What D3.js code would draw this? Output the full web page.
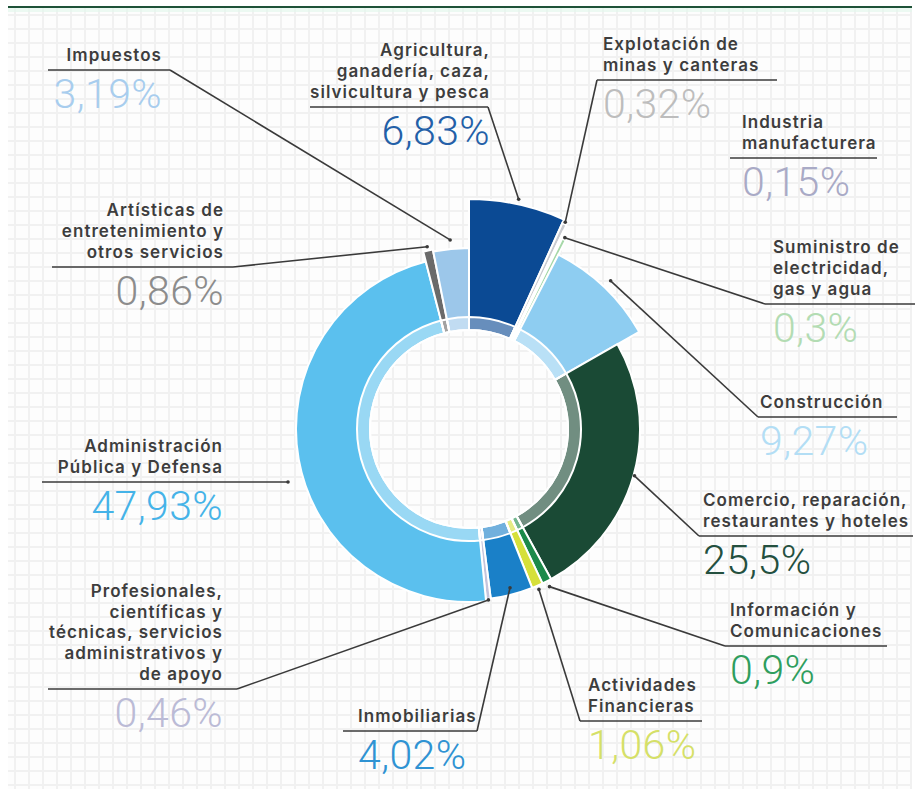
<!DOCTYPE html>
<html>
<head>
<meta charset="utf-8">
<title>PIB por sector</title>
<script src="https://cdnjs.cloudflare.com/ajax/libs/d3/7.8.5/d3.min.js"></script>
<style>
  body { margin: 0; background: #fff; }
  svg { display: block; }
  .lbl { font-family: Inter, "Open Sans", sans-serif; font-weight: 600; font-size: 17px; letter-spacing: 1.05px; fill: #3d3d3d; }
  .pct { font-family: Roboto, sans-serif; font-weight: 300; font-size: 41px; letter-spacing: 0.4px; }
  .rule { stroke: #3a3a3a; stroke-width: 1.6; fill: none; }
</style>
</head>
<body>
<div id="chart"></div>
<script>
// data, clockwise from 12 o'clock
const sectors = [
  "Agricultura,|ganadería, caza,|silvicultura y pesca",
  "Explotación de|minas y canteras",
  "Industria|manufacturera",
  "Suministro de|electricidad,|gas y agua",
  "Construcción",
  "Comercio, reparación,|restaurantes y hoteles",
  "Información y|Comunicaciones",
  "Actividades|Financieras",
  "Inmobiliarias",
  "Profesionales,|científicas y|técnicas, servicios|administrativos y|de apoyo",
  "Administración|Pública y Defensa",
  "Artísticas de|entretenimiento y|otros servicios",
  "Impuestos"
];
const shares = [6.83, 0.32, 0.15, 0.3, 9.27, 25.5, 0.9, 1.06, 4.02, 0.46, 47.93, 0.86, 3.19];
const sliceColors = ["#0b4a94", "#c9cbd0", "#a9aac8", "#a6d8a8", "#8ecdf1", "#1a4a35", "#1c8a4a",
  "#d6e03a", "#1a80c8", "#c4c4dc", "#5bc0ee", "#6a6a6a", "#9cc7ea"];
const valueColors = ["#2360a8", "#bdbdbd", "#a9aac6", "#b3dcb3", "#b3def5", "#24503f", "#2f9e5e",
  "#d5e068", "#2f93d3", "#bbbbd6", "#45b3e8", "#8c8c8c", "#a8cdee"];

// layout: outer radius of each slice, label block placement, leader target radius
const outerR = [230, 226, 219, 212, 196, 171, 171, 171, 171, 171, 173, 183, 181];
const labelPos = [
  { anchor: "end",   x: 490, y: 107, x0: 310, x1: 488, from: "x1", leadR: 235 },
  { anchor: "start", x: 603, y: 80,  x0: 597, x1: 777, from: "x0", leadR: 228 },
  { anchor: "start", x: 742, y: 158, x0: 730, x1: 877, from: null, leadR: null },
  { anchor: "start", x: 773, y: 304, x0: 765, x1: 915, from: "x0", leadR: 214 },
  { anchor: "start", x: 760, y: 417, x0: 758, x1: 897, from: "x0", leadR: 205 },
  { anchor: "start", x: 703, y: 536, x0: 699, x1: 913, from: "x0", leadR: 172 },
  { anchor: "start", x: 730, y: 646, x0: 725, x1: 887, from: "x0", leadR: 177 },
  { anchor: "start", x: 588, y: 721, x0: 580, x1: 702, from: "x0", leadR: 175 },
  { anchor: "start", x: 358, y: 731, x0: 343, x1: 477, from: "x1", leadR: 164 },
  { anchor: "end",   x: 223, y: 689, x0: 48,  x1: 237, from: "x1", leadR: 172 },
  { anchor: "end",   x: 223, y: 482, x0: 42,  x1: 288, from: null, leadR: null },
  { anchor: "end",   x: 224, y: 267, x0: 52,  x1: 233, from: "x1", leadR: 187 },
  { anchor: "end",   x: 162, y: 70,  x0: 48,  x1: 170, from: "x1", leadR: 190 }
];

const width = 920, height = 789;
const cx = 469, cy = 429, innerR = 99, bandR = 112;

const svg = d3.select("#chart").append("svg")
  .attr("width", width)
  .attr("height", height);

// graph paper background
const defs = svg.append("defs");
const pat = defs.append("pattern")
  .attr("id", "grid")
  .attr("width", 14).attr("height", 14)
  .attr("patternUnits", "userSpaceOnUse");
pat.append("rect").attr("width", 14).attr("height", 14).attr("fill", "#fdfdfd");
pat.append("rect").attr("x", 0).attr("width", 2).attr("height", 14).attr("fill", "#f1f1f1");
pat.append("rect").attr("y", 0).attr("width", 14).attr("height", 2).attr("fill", "#f1f1f1");

svg.append("rect").attr("width", width).attr("height", height).attr("fill", "#fff");
svg.append("rect")
  .attr("x", 8).attr("y", 8)
  .attr("width", width - 16).attr("height", height - 8)
  .attr("fill", "url(#grid)");
svg.append("rect")
  .attr("x", 8).attr("y", 8).attr("width", width - 16).attr("height", 4)
  .attr("fill", "#e4f6ec").attr("opacity", 0.7);
svg.append("line")
  .attr("x1", 8).attr("x2", width - 8)
  .attr("y1", 7).attr("y2", 7)
  .attr("stroke", "#1e5238").attr("stroke-width", 2);

const pie = d3.pie().sort(null).value(d => d);
const arcs = pie(shares);

const g = svg.append("g").attr("transform", `translate(${cx},${cy})`);

const arc = d3.arc();
g.selectAll("path.slice")
  .data(arcs)
  .enter().append("path")
  .attr("class", "slice")
  .attr("d", (d, i) => arc({ ...d, innerRadius: innerR, outerRadius: outerR[i] }))
  .attr("fill", (d, i) => sliceColors[i])
  .attr("stroke", "#fff")
  .attr("stroke-width", 2);

// lighter inner band
g.selectAll("path.band")
  .data(arcs)
  .enter().append("path")
  .attr("class", "band")
  .attr("d", d => arc({ ...d, innerRadius: innerR, outerRadius: bandR }))
  .attr("fill", "#fff")
  .attr("fill-opacity", 0.38)
  .attr("stroke", "#fff")
  .attr("stroke-width", 2);

// labels
const lab = svg.append("g");
arcs.forEach((d, i) => {
  const p = labelPos[i];
  const lines = sectors[i].split("|");
  lines.forEach((ln, k) => {
    lab.append("text")
      .attr("class", "lbl")
      .attr("text-anchor", p.anchor)
      .attr("x", p.x)
      .attr("y", p.y - 9 - (lines.length - 1 - k) * 20.8)
      .text(ln);
  });

  lab.append("text")
    .attr("class", "pct")
    .attr("text-anchor", p.anchor)
    .attr("x", p.x)
    .attr("y", p.y + 38)
    .attr("fill", valueColors[i])
    .text(String(shares[i]).replace(".", ",") + "%");

  lab.append("line")
    .attr("class", "rule")
    .attr("x1", p.x0).attr("x2", p.x1)
    .attr("y1", p.y).attr("y2", p.y);

  if (p.leadR) {
    const a = (d.startAngle + d.endAngle) / 2;
    const ex = cx + p.leadR * Math.sin(a);
    const ey = cy - p.leadR * Math.cos(a);
    const sx = p[p.from];
    lab.append("line")
      .attr("class", "rule")
      .attr("x1", sx).attr("y1", p.y)
      .attr("x2", ex).attr("y2", ey);
    lab.append("circle")
      .attr("cx", ex).attr("cy", ey).attr("r", 1.8)
      .attr("fill", "#3a3a3a");
  } else if (p.anchor === "end") {
    lab.append("circle")
      .attr("cx", p.x1).attr("cy", p.y).attr("r", 1.8)
      .attr("fill", "#3a3a3a");
  }
});
</script>
</body>
</html>
